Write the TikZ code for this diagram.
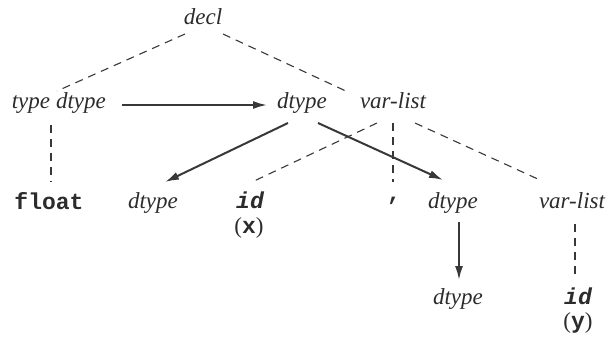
\documentclass[tikz,border=0pt]{standalone}
\usepackage{fontspec}
\setmainfont{Liberation Serif}
\setmonofont{Liberation Mono}
\usetikzlibrary{arrows.meta}
\definecolor{ink}{HTML}{2C2C2C}
\definecolor{linec}{HTML}{383838}
\newcommand\tsz{\fontsize{23}{26}\selectfont}
\begin{document}
\begin{tikzpicture}[x=1pt,y=-1pt,
  nt/.style={font=\tsz\itshape, text=ink, inner sep=0pt, anchor=base},
  tt/.style={font=\tsz\ttfamily\bfseries, text=ink, inner sep=0pt, anchor=base},
  ttid/.style={font=\tsz\ttfamily\bfseries\itshape, text=ink, inner sep=0pt, anchor=base},
  lex/.style={font=\tsz\rmfamily\upshape, text=ink, inner sep=0pt, anchor=base},
  dep/.style={draw=linec, line width=1.1pt, dash pattern=on 8pt off 6pt},
  flow/.style={draw=linec, line width=2pt, -{Latex[length=14pt,width=8pt]}},
]
\useasboundingbox (0,0) rectangle (610,338);
% row 1
\node[nt] (decl) at (203,24) {decl};
% row 2
\node[nt] (ty) at (31,108) {type};
\node[nt] (d1) at (81,108) {dtype};
\node[nt] (d2) at (302,108) {dtype};
\node[nt] (vl1) at (393,108) {var-list};
% row 3
\node[tt] (fl) at (49,209) {float};
\node[nt] (d3) at (153,208) {dtype};
\node[ttid] (id1) at (250,208) {id};
\node[lex] (px) at (249,233) {(\texttt{\bfseries x})};
\node[tt] (cm) at (394,200) {,};
\node[nt] (d4) at (453,208) {dtype};
\node[nt] (vl2) at (572,208) {var-list};
% row 4
\node[nt] (d5) at (458,304) {dtype};
\node[ttid] (id2) at (578,304) {id};
\node[lex] (py) at (578,328) {(\texttt{\bfseries y})};
% dashed parse-tree edges
\draw[dep] ([shift={(-18,10)}]decl.base) -- ([shift={(26,-17)}]ty.base);
\draw[dep] ([shift={(20,10)}]decl.base) -- ([shift={(-45,-16)}]vl1.base);
\draw[dep] ([shift={(20,17)}]ty.base) -- ([shift={(2,-27)}]fl.base);
\draw[dep] ([shift={(-16,15)}]vl1.base) -- ([shift={(2,-26)}]id1.base);
\draw[dep] ([shift={(0,15)}]vl1.base) -- ([shift={(-1,-18)}]cm.base);
\draw[dep] ([shift={(22,15)}]vl1.base) -- ([shift={(-32,-28)}]vl2.base);
\draw[dep] ([shift={(3,16)}]vl2.base) -- ([shift={(-3,-26)}]id2.base);
% dependency arrows
\draw[flow] ([shift={(41,-3)}]d1.base) -- ([shift={(-35,-3)}]d2.base);
\draw[flow] ([shift={(-14,15)}]d2.base) -- ([shift={(12,-26)}]d3.base);
\draw[flow] ([shift={(16,15)}]d2.base) -- ([shift={(-10,-28)}]d4.base);
\draw[flow] ([shift={(6,14)}]d4.base) -- ([shift={(1,-24)}]d5.base);
\end{tikzpicture}
\end{document}
